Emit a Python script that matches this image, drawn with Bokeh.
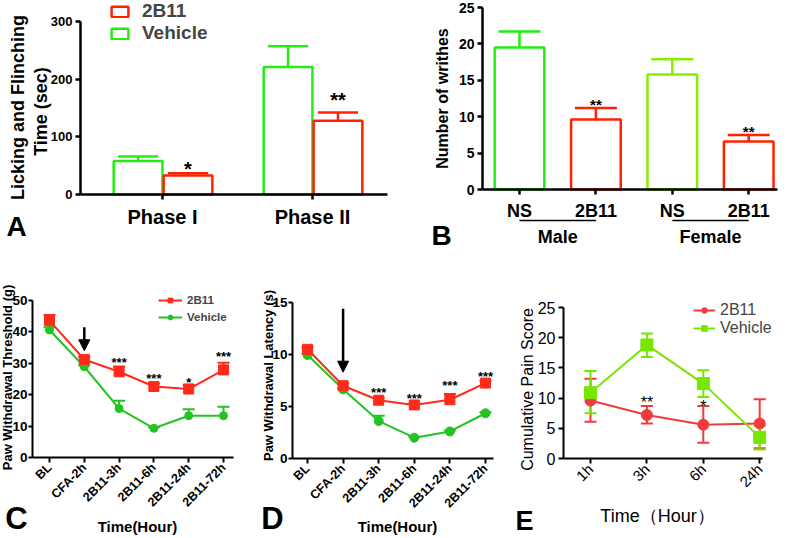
import math
from bokeh.plotting import figure
from bokeh.layouts import row, column
from bokeh.models import (ColumnDataSource, Whisker, TeeHead, FixedTicker, Label, Arrow,
                          NormalHead, Legend, LegendItem, Range1d)
from bokeh.core.properties import value
from bokeh.embed import file_html
from bokeh.resources import INLINE

# ---------------- data ----------------
a_phases = ["Phase I", "Phase II"]
a_veh_mean = [58, 221]
a_veh_sem = [8, 36]
a_2b11_mean = [33, 128]
a_2b11_sem = [4, 14]
a_sig = ["*", "**"]
a_sig_y = [53, 172]

b_sex = ["Male", "Female"]
b_labels = ["NS", "2B11", "NS", "2B11"]
b_mean = [19.5, 9.6, 15.8, 6.6]
b_sem = [2.2, 1.6, 2.1, 0.9]
b_sig = ["", "**", "", "**"]
b_sig_y = [0, 12.2, 0, 8.5]

cd_times = ["BL", "CFA-2h", "2B11-3h", "2B11-6h", "2B11-24h", "2B11-72h"]
c_2b11_mean = [43.6, 31.2, 27.3, 22.6, 21.8, 27.9]
c_2b11_sem = [1.8, 0.9, 1.7, 1.0, 1.4, 2.3]
c_veh_mean = [40.6, 28.9, 15.6, 9.3, 13.3, 13.3]
c_veh_sem = [0.9, 0.4, 2.5, 0.3, 2.1, 2.9]
c_sig = ["", "", "***", "***", "*", "***"]
c_sig_y = [0, 0, 31.2, 26.0, 25.0, 33.0]
c_arrow = (1, 41.5, 34.0)

d_2b11_mean = [10.5, 7.0, 5.6, 5.15, 5.65, 7.25]
d_2b11_sem = [0.2, 0.2, 0.2, 0.15, 0.55, 0.2]
d_veh_mean = [9.95, 6.65, 3.6, 2.0, 2.6, 4.35]
d_veh_sem = [0.1, 0.1, 0.5, 0.1, 0.1, 0.1]
d_sig = ["", "", "***", "***", "***", "***"]
d_sig_y = [0, 0, 6.6, 6.1, 7.3, 8.2]
d_arrow = (1, 14.4, 8.3)

e_times = ["1h", "3h", "6h", "24h"]
e_2b11_mean = [9.6, 7.2, 5.6, 5.8]
e_2b11_lo = [6.1, 5.8, 2.6, 1.7]
e_2b11_hi = [13.2, 8.7, 8.7, 9.8]
e_veh_mean = [10.9, 18.8, 12.4, 3.5]
e_veh_lo = [7.5, 16.8, 10.2, 1.5]
e_veh_hi = [14.5, 20.7, 14.6, 5.4]
e_sig = ["", "**", "*", ""]
e_sig_y = [0, 9.9, 9.3, 0]

# ---------------- styles ----------------
RED = "#ff2200"
GREEN = "#22ee11"
YGREEN = "#88ee00"
CRED = "#ff2a1a"
CGREEN = "#22c322"
ERED = "#ee3c3c"
EGREEN = "#77e600"
SANS = "Liberation Sans"


class Geo:
    """Page-pixel <-> data mapping for one panel (figure occupies [L,R]x[T,B] of the page)."""
    def __init__(self, L, R, T, B, x0, xs, y0, ys):
        self.L, self.R, self.T, self.B = L, R, T, B
        self.x0, self.xs, self.y0, self.ys = x0, xs, y0, ys

    def x(self, wx):
        return (wx - self.x0) / self.xs

    def y(self, wy):
        return (self.y0 - wy) / self.ys


def base_fig(g):
    p = figure(width=g.R - g.L, height=g.B - g.T,
               x_range=Range1d(g.x(g.L), g.x(g.R)), y_range=Range1d(g.y(g.B), g.y(g.T)),
               output_backend="svg", toolbar_location=None,
               min_border_left=0, min_border_right=0, min_border_top=0, min_border_bottom=0)
    p.outline_line_color = None
    p.xgrid.visible = False
    p.ygrid.visible = False
    p.background_fill_color = "white"
    p.border_fill_color = "white"
    return p


def style_axes(p, g, axis_x, axis_end, ybounds, lw, style, fsx, fsy, xstand=5, ystand=4,
               ytick=5):
    for ax in (p.xaxis[0], p.yaxis[0]):
        ax.axis_line_width = lw
        ax.axis_line_color = "black"
        ax.major_tick_line_width = lw
        ax.major_tick_line_color = "black"
        ax.major_tick_in = 0
        ax.major_tick_out = 5
        ax.minor_tick_line_color = None
        ax.major_label_text_color = "black"
        ax.major_label_text_font = SANS
        ax.major_label_text_font_style = style
    p.yaxis[0].major_tick_out = ytick
    p.xaxis[0].major_label_text_font_size = fsx
    p.yaxis[0].major_label_text_font_size = fsy
    p.xaxis[0].major_label_standoff = xstand
    p.yaxis[0].major_label_standoff = ystand
    p.xaxis[0].fixed_location = 0
    p.xaxis[0].bounds = (g.x(axis_x), g.x(axis_end))
    p.yaxis[0].fixed_location = g.x(axis_x)
    p.yaxis[0].bounds = ybounds


def add_label(p, x, y, text, size, style="bold", angle=0.0):
    p.add_layout(Label(x=x, y=y, text=text, angle=angle, text_font=SANS,
                       text_font_size=size, text_font_style=style, text_color="black",
                       text_align="center", text_baseline="middle"))


def sig_text(p, xs, ys, texts, size, style="bold", yoff=3):
    keep = [i for i, t in enumerate(texts) if t]
    p.text(x=[xs[i] for i in keep], y=[ys[i] for i in keep], text=[texts[i] for i in keep],
           text_font=value(SANS), text_font_size=size, text_font_style=style,
           text_align="center", text_baseline="middle", text_color="black", y_offset=yoff)


def legend(items, g, wx, wy_bottom, **kw):
    return Legend(items=items, location=(wx - g.L, g.B - wy_bottom), background_fill_alpha=0,
                  border_line_color=None, padding=0, margin=0, label_text_font=SANS, **kw)


# ================= Panel A =================
ga = Geo(0, 400, 0, 270, 162, 150, 194, 173 / 300)
pa = base_fig(ga)
a_idx = list(range(len(a_phases)))
src_av = ColumnDataSource(dict(x=[i - 0.163 for i in a_idx], top=a_veh_mean,
                               up=[m + s for m, s in zip(a_veh_mean, a_veh_sem)]))
src_ab = ColumnDataSource(dict(x=[i + 0.17 for i in a_idx], top=a_2b11_mean,
                               up=[m + s for m, s in zip(a_2b11_mean, a_2b11_sem)]))
r_av = pa.vbar(x="x", top="top", width=0.325, source=src_av, fill_color="white",
               line_color=GREEN, line_width=2.5)
r_ab = pa.vbar(x="x", top="top", width=0.325, source=src_ab, fill_color="white",
               line_color=RED, line_width=2.5)
for src, col in ((src_av, GREEN), (src_ab, RED)):
    pa.add_layout(Whisker(source=src, base="x", lower="top", upper="up", dimension="height",
                          line_color=col, line_width=2.5, lower_head=None,
                          upper_head=TeeHead(size=40, line_color=col, line_width=2.5)))
sig_text(pa, src_ab.data["x"], a_sig_y, a_sig, "20px", yoff=5)
style_axes(pa, ga, 80, 387, (0, 300), 2.5, "bold", "20px", "13px", xstand=6, ystand=3)
pa.yaxis[0].ticker = FixedTicker(ticks=[0, 100, 200, 300])
pa.xaxis[0].ticker = FixedTicker(ticks=a_idx)
pa.xaxis[0].major_label_overrides = {i: t for i, t in zip(a_idx, a_phases)}
pa.add_layout(legend([LegendItem(label="2B11", renderers=[r_ab]),
                      LegendItem(label="Vehicle", renderers=[r_av])], ga, 109, 44,
                     spacing=-1, glyph_width=21, glyph_height=13, label_height=13,
                     label_standoff=12, label_text_font_style="bold", label_text_font_size="19px"))
add_label(pa, ga.x(17), ga.y(107), "Licking and Flinching", "18px", angle=math.pi / 2)
add_label(pa, ga.x(40), ga.y(111), "Time (sec)", "18px", angle=math.pi / 2)
add_label(pa, ga.x(16), ga.y(226), "A", "28px")

# ================= Panel B =================
gb = Geo(400, 787, 0, 270, 519, 76.4, 189, 182 / 25)
pb = base_fig(gb)
b_idx = list(range(len(b_labels)))
b_colors = [GREEN, RED, YGREEN, RED]
src_b = ColumnDataSource(dict(x=b_idx, top=b_mean, up=[m + s for m, s in zip(b_mean, b_sem)],
                              color=b_colors))
pb.vbar(x="x", top="top", width=0.65, source=src_b, fill_color="white",
        line_color="color", line_width=2.5)
pb.add_layout(Whisker(source=src_b, base="x", lower="top", upper="up", dimension="height",
                      line_color="color", line_width=2.5, lower_head=None,
                      upper_head=TeeHead(size=42, line_color="color", line_width=2.5)))
sig_text(pb, b_idx, b_sig_y, b_sig, "15px", yoff=4)
style_axes(pb, gb, 482, 777, (0, 25), 2.5, "bold", "18px", "14px", xstand=6, ystand=3)
pb.yaxis[0].ticker = FixedTicker(ticks=[0, 5, 10, 15, 20, 25])
pb.xaxis[0].ticker = FixedTicker(ticks=b_idx)
pb.xaxis[0].major_label_overrides = {i: t for i, t in zip(b_idx, b_labels)}
for gi, sex in enumerate(b_sex):
    x_a, x_b = 2 * gi, 2 * gi + 1
    pb.add_layout(Arrow(start=None, end=None, x_start=x_a, x_end=x_b, y_start=gb.y(220),
                        y_end=gb.y(220), line_color="black", line_width=1.5))
    add_label(pb, (x_a + x_b) / 2, gb.y(236), sex, "18px")
add_label(pb, gb.x(442), gb.y(98), "Number of writhes", "16px", angle=math.pi / 2)
add_label(pb, gb.x(441), gb.y(235), "B", "28px")


# ================= Panels C / D =================
def line_panel(p, idx, m1, s1, m2, s2, c1, c2, mk1, mk2, sz1, sz2):
    s_a = ColumnDataSource(dict(x=idx, y=m1, up=[m + s for m, s in zip(m1, s1)]))
    s_b = ColumnDataSource(dict(x=idx, y=m2, up=[m + s for m, s in zip(m2, s2)]))
    rl2 = p.line("x", "y", source=s_b, line_color=c2, line_width=2)
    p.add_layout(Whisker(source=s_b, base="x", lower="y", upper="up", dimension="height",
                         line_color=c2, line_width=2, lower_head=None,
                         upper_head=TeeHead(size=12, line_color=c2, line_width=2)))
    rm2 = p.scatter("x", "y", source=s_b, marker=mk2, size=sz2, color=c2)
    rl1 = p.line("x", "y", source=s_a, line_color=c1, line_width=2)
    p.add_layout(Whisker(source=s_a, base="x", lower="y", upper="up", dimension="height",
                         line_color=c1, line_width=2, lower_head=None,
                         upper_head=TeeHead(size=12, line_color=c1, line_width=2)))
    rm1 = p.scatter("x", "y", source=s_a, marker=mk1, size=sz1, color=c1)
    return (rl1, rm1), (rl2, rm2)


cd_idx = list(range(len(cd_times)))

gc = Geo(0, 260, 270, 538, 49, 34.8, 457, 157 / 50)
pc = base_fig(gc)
(c1r, c2r) = line_panel(pc, cd_idx, c_2b11_mean, c_2b11_sem, c_veh_mean, c_veh_sem,
                        CRED, CGREEN, "square", "circle", 10, 8)
sig_text(pc, cd_idx, c_sig_y, c_sig, "13px", yoff=3)
pc.add_layout(Arrow(x_start=c_arrow[0], x_end=c_arrow[0], y_start=c_arrow[1], y_end=c_arrow[2],
                    line_color="black", line_width=2.5,
                    end=NormalHead(size=11, fill_color="black", line_color="black")))
style_axes(pc, gc, 32, 233, (0, 50), 2, "bold", "12.5px", "13.5px", xstand=3, ystand=1,
           ytick=4)
pc.yaxis[0].ticker = FixedTicker(ticks=[0, 10, 20, 30, 40, 50])
pc.xaxis[0].ticker = FixedTicker(ticks=cd_idx)
pc.xaxis[0].major_label_overrides = {i: t for i, t in zip(cd_idx, cd_times)}
pc.xaxis[0].major_label_orientation = math.pi / 4
pc.add_layout(legend([LegendItem(label="2B11", renderers=list(c1r)),
                      LegendItem(label="Vehicle", renderers=list(c2r))], gc, 158, 323,
                     spacing=5, glyph_width=24, glyph_height=12, label_height=12,
                     label_standoff=5, label_text_font_style="bold", label_text_font_size="11.5px"))
add_label(pc, gc.x(7), gc.y(377), "Paw Withdrawal Threshold (g)", "13px", angle=math.pi / 2)
add_label(pc, gc.x(137), gc.y(526), "Time(Hour)", "15px")
add_label(pc, gc.x(16), gc.y(518), "C", "31px")

gd = Geo(260, 515, 270, 538, 307, 35.6, 458, 156 / 15)
pd_ = base_fig(gd)
line_panel(pd_, cd_idx, d_2b11_mean, d_2b11_sem, d_veh_mean, d_veh_sem,
           CRED, CGREEN, "square", "circle", 10, 9)
sig_text(pd_, cd_idx, d_sig_y, d_sig, "13px", yoff=3)
pd_.add_layout(Arrow(x_start=d_arrow[0], x_end=d_arrow[0], y_start=d_arrow[1], y_end=d_arrow[2],
                     line_color="black", line_width=2.5,
                     end=NormalHead(size=11, fill_color="black", line_color="black")))
style_axes(pd_, gd, 292, 493, (0, 15), 2, "bold", "12.5px", "13.5px", xstand=3, ystand=1,
           ytick=4)
pd_.yaxis[0].ticker = FixedTicker(ticks=[0, 5, 10, 15])
pd_.xaxis[0].ticker = FixedTicker(ticks=cd_idx)
pd_.xaxis[0].major_label_overrides = {i: t for i, t in zip(cd_idx, cd_times)}
pd_.xaxis[0].major_label_orientation = math.pi / 4
add_label(pd_, gd.x(268), gd.y(375), "Paw Withdrawal Latency (s)", "13px", angle=math.pi / 2)
add_label(pd_, gd.x(397), gd.y(526), "Time(Hour)", "15px")
add_label(pd_, gd.x(272), gd.y(518), "D", "31px")

# ================= Panel E =================
ge = Geo(515, 787, 270, 538, 590, 56.4, 458, 151 / 25)
pe = base_fig(ge)
e_idx = list(range(len(e_times)))
s_e1 = ColumnDataSource(dict(x=e_idx, y=e_2b11_mean, lo=e_2b11_lo, hi=e_2b11_hi))
s_e2 = ColumnDataSource(dict(x=e_idx, y=e_veh_mean, lo=e_veh_lo, hi=e_veh_hi))
el1 = pe.line("x", "y", source=s_e1, line_color=ERED, line_width=2)
el2 = pe.line("x", "y", source=s_e2, line_color=EGREEN, line_width=2)
for src, col in ((s_e1, ERED), (s_e2, EGREEN)):
    pe.add_layout(Whisker(source=src, base="x", lower="lo", upper="hi", dimension="height",
                          line_color=col, line_width=2,
                          upper_head=TeeHead(size=12, line_color=col, line_width=2),
                          lower_head=TeeHead(size=12, line_color=col, line_width=2)))
em1 = pe.scatter("x", "y", source=s_e1, marker="circle", size=11, color=ERED)
em2 = pe.scatter("x", "y", source=s_e2, marker="square", size=12, color=EGREEN)
sig_text(pe, e_idx, e_sig_y, e_sig, "16px", style="normal", yoff=4)
style_axes(pe, ge, 563, 762, (0, 25), 2, "normal", "15px", "16px", xstand=3, ystand=3)
pe.yaxis[0].ticker = FixedTicker(ticks=[0, 5, 10, 15, 20, 25])
pe.xaxis[0].ticker = FixedTicker(ticks=e_idx)
pe.xaxis[0].major_label_overrides = {i: t for i, t in zip(e_idx, e_times)}
pe.xaxis[0].major_label_orientation = math.pi / 4
pe.add_layout(legend([LegendItem(label="2B11", renderers=[el1, em1]),
                      LegendItem(label="Vehicle", renderers=[el2, em2])], ge, 693, 336.5,
                     spacing=-5, glyph_width=22, glyph_height=14, label_height=14,
                     label_standoff=5, label_text_font_style="normal", label_text_font_size="16px"))
add_label(pe, ge.x(527), ge.y(389), "Cumulative Pain Score", "16px", style="normal", angle=math.pi / 2)
add_label(pe, ge.x(657), ge.y(515), "Time（Hour）", "18px", style="normal")
add_label(pe, ge.x(524), ge.y(520), "E", "27px")

layout = column(row(pa, pb), row(pc, pd_, pe))
open("out.html", "w").write(file_html(layout, INLINE))
